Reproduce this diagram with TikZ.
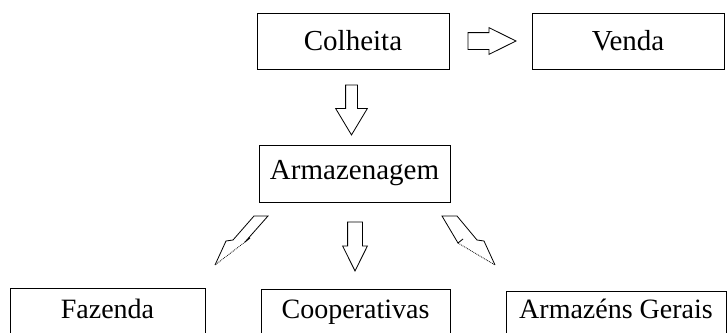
\documentclass[tikz,border=0pt]{standalone}
\usepackage{fontspec}
\setmainfont{Liberation Serif}
\usetikzlibrary{shapes.arrows,calc}

\begin{document}
\begin{tikzpicture}[x=1pt,y=-1pt,
  box/.style={draw,line width=1pt,inner sep=0pt,minimum height=56pt,font=\fontsize{29}{32}\selectfont},
  cutbox/.style={draw,line width=1pt,inner sep=0pt,anchor=base,text depth=30pt,font=\fontsize{28}{32}\selectfont},
  blockarrow/.style={draw,single arrow,line width=0.8pt,inner xsep=0pt,anchor=tail,single arrow head extend=#1}]
\useasboundingbox (0,0) rectangle (727,332);
\clip (0,0) rectangle (727,332);

\node[box,minimum width=192pt] (colheita) at (353,41) {Colheita};
\node[box,minimum width=192pt] (venda) at (628,41) {Venda};
\node[box,minimum width=191pt,minimum height=57pt] (armaz) at (354.5,173.5) {Armazenagem};

\node[cutbox,minimum width=195pt,text height=30pt] (fazenda) at (107.5,318) {Fazenda};
\node[cutbox,minimum width=189pt,text height=29pt] (coop) at (355.5,318) {Cooperativas};
\node[cutbox,minimum width=220pt,text height=27pt] (gerais) at (616,318) {Armazéns Gerais};

\node[blockarrow=5pt,inner ysep=8pt,minimum height=48pt,single arrow tip angle=53]
  (a1) at ($(colheita.east)+(18,0)$) {};
\node[blockarrow=10pt,inner ysep=5.5pt,minimum height=50pt,single arrow tip angle=62,rotate=-90]
  (a2) at ($(colheita.south)+(-1.5,15)$) {};
\node[blockarrow=5pt,inner ysep=7pt,minimum height=49pt,single arrow tip angle=53,rotate=-90]
  (a3) at ($(armaz.south)+(0.5,19)$) {};

% diagonal arrows
\draw[line width=0.8pt] (245,242) -- (250,238) (245,242) -- (268,216) -- (254,216) -- (233,240) -- (226,241) -- (215,265);
\draw[line width=0.8pt,densely dotted] (245,242) -- (215,265);
\draw[line width=0.8pt] (463,239) -- (458,243) -- (442,216) -- (457,216) -- (477,240) -- (484,241) -- (495,265);
\draw[line width=0.8pt,densely dotted] (458,243) -- (495,265);
\end{tikzpicture}
\end{document}
